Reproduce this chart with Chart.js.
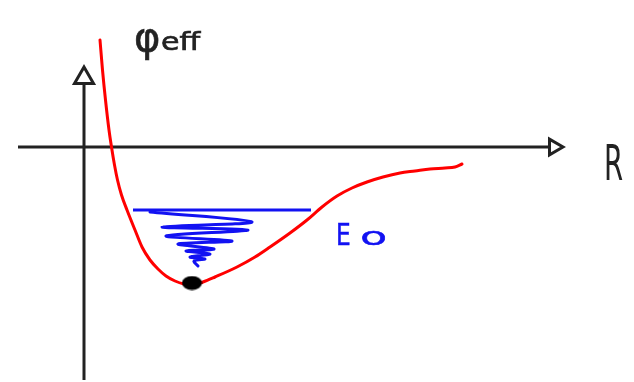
<!DOCTYPE html>
<html>
<head>
<meta charset="utf-8">
<script src="https://cdn.jsdelivr.net/npm/chart.js@4/dist/chart.umd.min.js"></script>
<style>
  html, body { margin: 0; padding: 0; background: #ffffff; }
  canvas { display: block; }
</style>
</head>
<body>
<canvas id="chart" width="634" height="382"></canvas>
<script>
// Effective potential sketch: phi_eff(R) with the ground level E0 and the bound state at the minimum.
// Units are arbitrary; origin is where the axes cross.

// Effective potential curve
const curveR   = [16, 18.5, 21.5, 25, 27.5, 30.5, 33.5, 37.5, 43, 51, 58, 66, 74, 82, 91, 100, 109, 119, 131, 153, 171, 186, 206, 223, 238, 253, 268, 283, 299, 316, 331, 346, 361, 371, 378];
const curvePhi = [107, 77, 47, 17, 0, -18, -33, -48, -63, -83, -100, -113, -122, -129, -134, -137, -138, -135, -130, -120, -110, -100, -86, -73, -60, -49, -41, -35, -30, -26, -24, -22, -21, -20, -17];

// Minimum of the well (the dot)
const minR   = [108];
const minPhi = [-136];

// Energy level E0 and its horizontal extent
const levelE0 = -63;
const levelR  = [49, 227];

// Scribbled wave below the level
const waveR   = [66, 168, 78, 164, 82, 148, 94, 130, 102, 126, 106, 121, 110, 114];
const wavePhi = [-65, -75, -80, -83, -89, -94, -97, -102, -104, -107, -110, -112, -114, -119];

// Axes extents
const phiAxisR   = [0, 0];
const phiAxisPhi = [-233, 69];
const rAxisR     = [-66, 470];
const rAxisPhi   = [0, 0];

const pts = (xs, ys) => xs.map((x, i) => ({ x: x, y: ys[i] }));

const RED = '#ff0000';
const BLUE = '#1212f2';
const INK = '#222222';

// filled ellipse used as the marker at the minimum
const dot = document.createElement('canvas');
dot.width = 21; dot.height = 15;
(function () {
  const c = dot.getContext('2d');
  c.fillStyle = '#000000';
  c.beginPath();
  c.ellipse(10.5, 7.5, 10, 7, 0, 0, Math.PI * 2);
  c.fill();
})();

// Hand-lettered labels placed in data coordinates
const labelPlugin = {
  id: 'sketchLabels',
  afterDatasetsDraw(chart) {
    const { ctx, scales: { x, y } } = chart;
    const put = (txt, r, phi, font, color, sx, stroke) => {
      ctx.save();
      ctx.font = font;
      ctx.fillStyle = color;
      ctx.strokeStyle = color;
      ctx.textAlign = 'left';
      ctx.textBaseline = 'alphabetic';
      ctx.translate(x.getPixelForValue(r), y.getPixelForValue(phi));
      ctx.scale(sx, 1);
      ctx.fillText(txt, 0, 0);
      if (stroke) { ctx.lineWidth = stroke; ctx.strokeText(txt, 0, 0); }
      ctx.restore();
    };
    put('\u03C6', 50, 96, '40px "DejaVu Sans"', INK, 1.0, 0.6);
    put('eff', 77, 97, '24px "DejaVu Sans"', INK, 1.25, 0.7);
    put('R', 520, -33, '50px "DejaVu Sans"', INK, 0.55, 0);
    put('E', 252, -98, '31px "DejaVu Sans"', BLUE, 0.75, 0.6);
    put('o', 276, -98, '24px "DejaVu Sans"', BLUE, 1.85, 0.4);
  }
};

new Chart(document.getElementById('chart'), {
  type: 'scatter',
  data: {
    datasets: [
      {
        data: pts(minR, minPhi),
        pointStyle: dot, pointRadius: 10
      },
      {
        data: pts(curveR, curvePhi),
        showLine: true, borderColor: RED, borderWidth: 3, pointRadius: 0,
        cubicInterpolationMode: 'monotone', borderCapStyle: 'round'
      },
      {
        data: pts(levelR, levelR.map(() => levelE0)),
        showLine: true, borderColor: BLUE, borderWidth: 3, pointRadius: 0
      },
      {
        data: pts(waveR, wavePhi),
        showLine: true, borderColor: BLUE, borderWidth: 3, pointRadius: 0,
        tension: 0.35, borderJoinStyle: 'round', borderCapStyle: 'round'
      },
      {
        data: pts(phiAxisR, phiAxisPhi),
        showLine: true, borderColor: INK, borderWidth: 3,
        pointRadius: [0, 11], pointStyle: 'triangle', pointRotation: 0,
        pointBackgroundColor: '#ffffff', pointBorderColor: INK, pointBorderWidth: 3
      },
      {
        data: pts(rAxisR, rAxisPhi),
        showLine: true, borderColor: INK, borderWidth: 3,
        pointRadius: [0, 9], pointStyle: 'triangle', pointRotation: 90,
        pointBackgroundColor: '#ffffff', pointBorderColor: INK, pointBorderWidth: 3
      }
    ]
  },
  options: {
    responsive: false,
    animation: false,
    layout: { padding: 0, autoPadding: false },
    plugins: { legend: { display: false }, tooltip: { enabled: false } },
    scales: {
      x: { type: 'linear', min: -84, max: 550, display: false },
      y: { type: 'linear', min: -235, max: 147, display: false }
    }
  },
  plugins: [labelPlugin]
});
</script>
</body>
</html>
